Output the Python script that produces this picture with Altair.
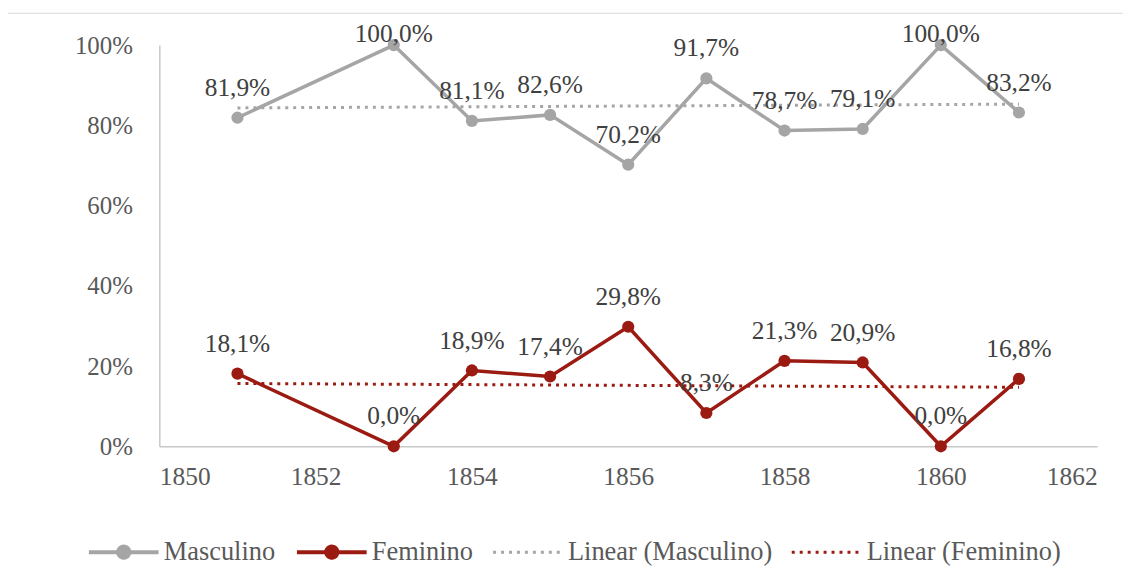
import altair as alt
import pandas as pd

# ---- data ----
years = [1851, 1853, 1854, 1855, 1856, 1857, 1858, 1859, 1860, 1861]
masculino = [81.9, 100.0, 81.1, 82.6, 70.2, 91.7, 78.7, 79.1, 100.0, 83.2]
feminino = [18.1, 0.0, 18.9, 17.4, 29.8, 8.3, 21.3, 20.9, 0.0, 16.8]
series_names = ["Masculino", "Feminino", "Linear (Masculino)", "Linear (Feminino)"]
series_colors = ["#A5A5A5", "#9B1B12", "#A5A5A5", "#9B1B12"]
x_ticks = [1850, 1852, 1854, 1856, 1858, 1860, 1862]
y_ticks = [0, 0.2, 0.4, 0.6, 0.8, 1.0]

rows = []
for name, vals in (("Masculino", masculino), ("Feminino", feminino)):
    for yr, v in zip(years, vals):
        rows.append({"year": yr, "value": v / 100.0, "series": name,
                     "label": f"{v:.1f}%".replace(".", ",")})
df = pd.DataFrame(rows)

FONT = "Liberation Serif, Times New Roman, DejaVu Serif, serif"
AXIS_GREY = "#C8C8C8"

x_enc = alt.X("year:Q",
              scale=alt.Scale(domain=[1850, 1862], nice=False, zero=False),
              axis=alt.Axis(values=x_ticks, format="d", title=None, grid=False,
                            ticks=False, labelPadding=18, domainColor=AXIS_GREY,
                            domainWidth=1.5, labelFont=FONT, labelFontSize=25.5,
                            labelColor="#595959"))
y_enc = alt.Y("value:Q",
              scale=alt.Scale(domain=[0, 1], nice=False),
              axis=alt.Axis(values=y_ticks, format=".0%", title=None, grid=False,
                            ticks=False, labelPadding=27, domainColor=AXIS_GREY,
                            domainWidth=1.5, labelFont=FONT, labelFontSize=25,
                            labelColor="#595959"))

solid = "(datum.value == 'Masculino' || datum.value == 'Feminino')"
grey = "(datum.value == 'Masculino' || datum.value == 'Linear (Masculino)')"
legend = alt.Legend(
    title=None, orient="none", legendX=-49, legendY=496, direction="horizontal",
    columns=4, padding=0, labelFont=FONT, labelFontSize=26.5, labelColor="#595959",
    labelOffset=27, columnPadding=13, symbolSize=4900, labelLimit=400,
    symbolType={"expr": solid + " ? 'M-1,0H1M0.16,0A0.16,0.16,0,1,1,-0.16,0A0.16,0.16,0,1,1,0.16,0Z' : 'M-1,0H1'"},
    symbolDash={"expr": solid + " ? [1,0] : [3,5]"},
    symbolStrokeWidth={"expr": solid + " ? 4 : 3"},
    symbolFillColor={"expr": grey + " ? '#A5A5A5' : '#9B1B12'"},
    symbolStrokeColor={"expr": grey + " ? '#A5A5A5' : '#9B1B12'"},
)
color_enc = alt.Color("series:N",
                      scale=alt.Scale(domain=series_names, range=series_colors),
                      legend=legend)

base = alt.Chart(df)

border = alt.Chart(pd.DataFrame({"a": [0]})).mark_rect(
    fill="transparent", stroke="#D9D9D9", strokeWidth=1.2
).encode(x=alt.value(-153), x2=alt.value(1100), y=alt.value(-32), y2=alt.value(700))

lines = base.mark_line(strokeWidth=3.5).encode(x=x_enc, y=y_enc, color=color_enc,
                                               detail="series:N")

trends = base.transform_regression(
    "year", "value", groupby=["series"], extent=[1851, 1861]
).transform_calculate(
    series="'Linear (' + datum.series + ')'"
).mark_line(strokeWidth=3, strokeDash=[3, 5]).encode(x=x_enc, y=y_enc, color=color_enc)

points = base.mark_circle(size=150, opacity=1).encode(x=x_enc, y=y_enc, color=color_enc)

labels = base.transform_filter("datum.value < 1").mark_text(
    font=FONT, fontSize=25.5, color="#404040", dy=-30, baseline="middle"
).encode(x=x_enc, y=y_enc, text="label:N")

labels_top = base.transform_filter("datum.value >= 1").mark_text(
    font=FONT, fontSize=25.5, color="#404040", dy=-11, baseline="middle"
).encode(x=x_enc, y=y_enc, text="label:N")

chart = alt.layer(border, lines, trends, points, labels, labels_top).properties(
    width=942, height=403,
    padding={"left": 152, "top": 36, "right": 26, "bottom": 121},
    autosize=alt.AutoSizeParams(type="none"),
).configure_view(stroke=None)

chart.save("out.html", embed_options={"renderer": "svg", "actions": False})
